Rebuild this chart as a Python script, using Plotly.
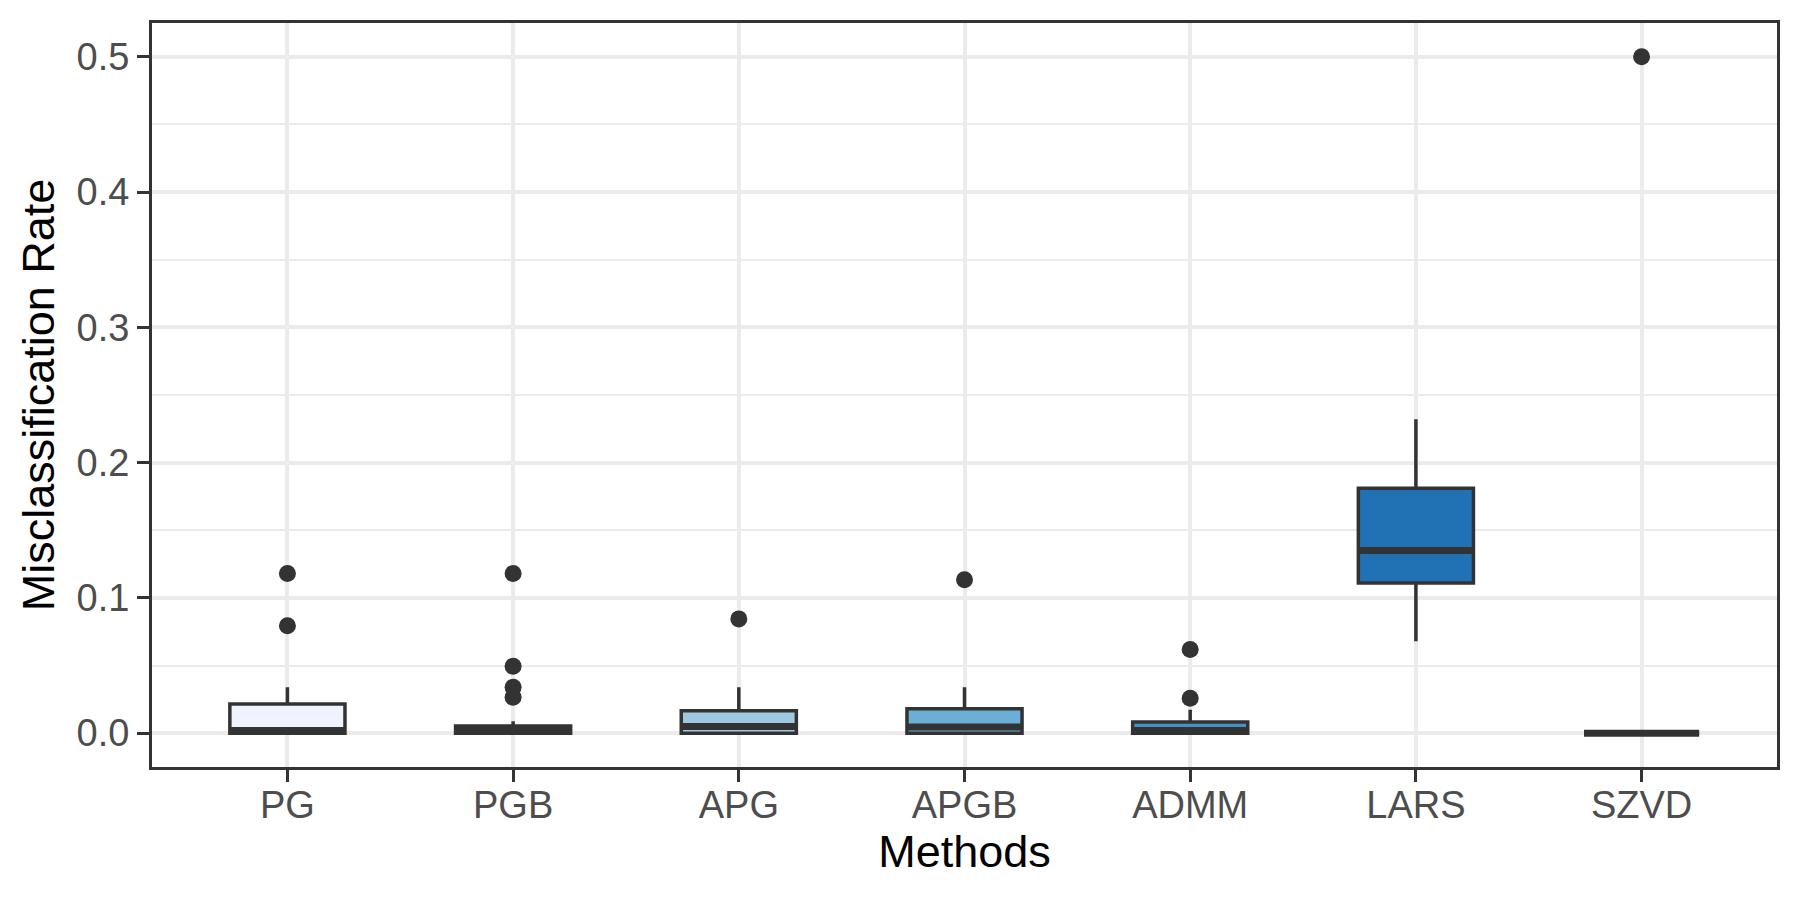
import plotly.graph_objects as go

# box statistics
methods = ["PG", "PGB", "APG", "APGB", "ADMM", "LARS", "SZVD"]
fills = ["#EFF3FF", "#C6DBEF", "#9ECAE1", "#6BAED6", "#4292C6", "#2171B5", "#084594"]

lower = [0.0, 0.0, 0.0, 0.0, 0.0, 0.068, 0.0]
q1 = [0.0, 0.0, 0.0, 0.0, 0.0, 0.111, 0.0]
median = [0.002, 0.002, 0.005, 0.0045, 0.002, 0.135, 0.0]
q3 = [0.0215, 0.0053, 0.0165, 0.018, 0.0082, 0.181, 0.0]
upper = [0.034, 0.0089, 0.034, 0.034, 0.0173, 0.232, 0.0]

# outlying points
out_method = ["PG", "PG", "PGB", "PGB", "PGB", "PGB", "APG", "APGB", "ADMM", "ADMM", "SZVD"]
out_rate = [0.118, 0.0795, 0.118, 0.0495, 0.034, 0.0266, 0.0845, 0.1135, 0.0618, 0.0259, 0.5]

dark = "#333333"
font_fam = "Liberation Sans, Arial, sans-serif"

fig = go.Figure()

for i, m in enumerate(methods):
    fig.add_trace(go.Box(x=[m], q1=[q1[i]], median=[median[i]], q3=[q3[i]],
                         lowerfence=[lower[i]], upperfence=[upper[i]],
                         width=0.51, fillcolor=fills[i], line=dict(color=dark, width=3.5),
                         whiskerwidth=0, boxpoints=False, showlegend=False,
                         hoverinfo="skip"))
    # thicker median bar, like ggplot's fatten
    fig.add_trace(go.Box(x=[m], q1=[median[i]], median=[median[i]], q3=[median[i]],
                         lowerfence=[median[i]], upperfence=[median[i]],
                         width=0.51, fillcolor="rgba(0,0,0,0)", line=dict(color=dark, width=7),
                         whiskerwidth=0, boxpoints=False, showlegend=False,
                         hoverinfo="skip"))

fig.add_trace(go.Scatter(x=out_method, y=out_rate, mode="markers",
                         marker=dict(color=dark, size=17),
                         showlegend=False, hoverinfo="skip"))

# page body has an 8px margin, so the figure is a bit smaller than the window
fig.update_layout(
    width=1792, height=892,
    margin=dict(l=144, r=23, t=15, b=133),
    paper_bgcolor="white", plot_bgcolor="white",
    boxmode="overlay",
    font=dict(family=font_fam, color="#4D4D4D", size=38),
)

fig.update_xaxes(
    categoryorder="array", categoryarray=methods,
    range=[-0.6, 6.6],
    showgrid=True, gridcolor="#EBEBEB", gridwidth=3.5,
    showline=True, mirror=True, linecolor=dark, linewidth=3,
    ticks="outside", ticklen=12, tickwidth=3, tickcolor=dark,
    tickfont=dict(size=38, color="#4D4D4D"), ticklabelstandoff=-10,
    title=dict(text="Methods", font=dict(size=45, color="black"), standoff=8),
)

fig.update_yaxes(
    range=[-0.025, 0.525],
    tickvals=[0, 0.1, 0.2, 0.3, 0.4, 0.5], tickformat=".1f",
    showgrid=True, gridcolor="#EBEBEB", gridwidth=3.5,
    minor=dict(tick0=0.05, dtick=0.1, showgrid=True, gridcolor="#EBEBEB", gridwidth=2),
    zeroline=False,
    showline=True, mirror=True, linecolor=dark, linewidth=3,
    ticks="outside", ticklen=12, tickwidth=3, tickcolor=dark,
    tickfont=dict(size=38, color="#4D4D4D"),
    title=dict(text="Misclassification Rate", font=dict(size=45, color="black"), standoff=8),
)

fig.write_html("out.html")
